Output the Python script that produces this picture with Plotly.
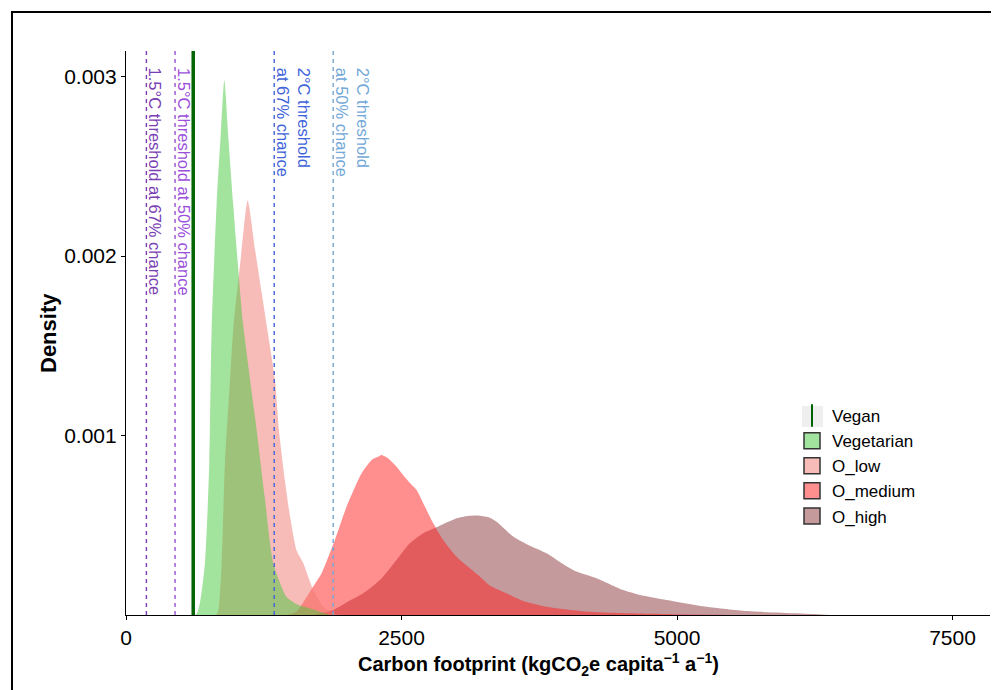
import plotly.graph_objects as go

# ---------------- data ----------------
veg_x = [620, 641, 671, 717, 756, 777, 823, 860, 892, 930, 971, 1016, 1061, 1186, 1260, 1336, 1458, 1550, 1650, 1750, 1850]
veg_y = [0, 0.000005, 0.000067, 0.00029, 0.00085, 0.00159, 0.0023, 0.00268, 0.00298, 0.00265, 0.0023, 0.00195, 0.00163, 0.00103, 0.00065, 0.00029, 0.0001, 0.00006, 0.00004, 0.00002, 0]

low_x = [820, 840, 868, 898, 940, 973, 1040, 1104, 1170, 1230, 1280, 1352, 1388, 1442, 1488, 1548, 1608, 1699, 1790, 1878, 2000]
low_y = [0, 0.00003, 0.00029, 0.00085, 0.00127, 0.00159, 0.00198, 0.00231, 0.00204, 0.0018, 0.0016, 0.00131, 0.00103, 0.00075, 0.00055, 0.00036, 0.00029, 0.00014, 0.000046, 0.00001, 0]

med_x = [1450, 1550, 1639, 1700, 1775, 1840, 1896, 2002, 2138, 2229, 2280, 2319, 2360, 2395, 2450, 2501, 2570, 2637, 2712, 2788, 2878, 3000, 3190, 3300, 3453, 3600, 3816, 4200, 4572, 5000, 5500]
med_y = [0, 0.00002, 0.0001, 0.00016, 0.000233, 0.00033, 0.000418, 0.000604, 0.00079, 0.000864, 0.00088, 0.000892, 0.00088, 0.000864, 0.00083, 0.00079, 0.00074, 0.000697, 0.000604, 0.000511, 0.000418, 0.000325, 0.000225, 0.000165, 0.000121, 0.00008, 0.000046, 0.000018, 0.0000095, 0.000004, 0]

high_x = [1700, 1880, 2000, 2153, 2304, 2455, 2576, 2697, 2818, 3000, 3100, 3190, 3290, 3363, 3513, 3650, 3816, 3950, 4088, 4270, 4511, 4663, 4905, 5268, 5630, 6084, 6400]
high_y = [0, 0.000028, 0.00007, 0.000121, 0.000195, 0.000307, 0.0004, 0.000456, 0.000489, 0.000539, 0.000552, 0.000555, 0.000545, 0.00052, 0.000437, 0.00039, 0.000344, 0.00029, 0.000242, 0.000205, 0.000139, 0.000112, 0.000084, 0.000046, 0.000022, 0.0000095, 0]

vegan_value = 610
threshold_values = [185, 445, 1345, 1880]
threshold_labels = [
    "1.5°C threshold at 67% chance",
    "1.5°C threshold at 50% chance",
    "2°C threshold<br>at 67% chance",
    "2°C threshold<br>at 50% chance",
]
threshold_colors = ["#7A3DB3", "#9B4FDB", "#4063DA", "#72A8D8"]

x_ticks = [0, 2500, 5000, 7500]
y_ticks = [0.001, 0.002, 0.003]
y_ticktext = ["0.001", "0.002", "0.003"]

series = [
    ("O_high", high_x, high_y, "rgba(137,53,57,0.5)", "#C49A9C"),
    ("O_medium", med_x, med_y, "rgba(255,30,30,0.5)", "#FF8E8E"),
    ("O_low", low_x, low_y, "rgba(241,121,113,0.5)", "#F8BCB8"),
    ("Vegetarian", veg_x, veg_y, "rgba(70,200,60,0.5)", "#A2E39D"),
]
legend_rank = {"Vegan": 1, "Vegetarian": 2, "O_low": 3, "O_medium": 4, "O_high": 5}

FONT = "Liberation Sans, Arial, sans-serif"

# page geometry (the page body has an 8px margin)
BODY = 8
W, H = 999 - BODY, 690 - BODY
PL, PR, PT, PB = 126, 990, 51, 615          # plot area on the page
PW, PH = PR - PL, PB - PT


def px(xp):
    return (xp - PL) / PW


def py(yp):
    return (PB - yp) / PH


fig = go.Figure()

for name, xs, ys, fc, _ in series:
    fig.add_trace(go.Scatter(
        x=xs, y=ys, mode="lines", fill="tozeroy", fillcolor=fc,
        line=dict(width=0, shape="spline", smoothing=0.6),
        showlegend=False, hoverinfo="skip", name=name))

# threshold lines
for v, c in zip(threshold_values, threshold_colors):
    fig.add_shape(type="line", xref="x", yref="paper", x0=v, x1=v, y0=0, y1=1,
                  line=dict(color=c, width=1.4, dash="4px,4px"))

# vegan line
fig.add_shape(type="line", xref="x", yref="paper", x0=vegan_value, x1=vegan_value,
              y0=0, y1=1, line=dict(color="#006400", width=3.5))

for v, t, c in zip(threshold_values, threshold_labels, threshold_colors):
    fig.add_annotation(x=v, y=py(66), xref="x", yref="paper", text=t, textangle=90,
                       xanchor="left", yanchor="top", showarrow=False, align="left",
                       xshift=-2, font=dict(family=FONT, size=16.5, color=c))

# legend entries
fig.add_trace(go.Scatter(
    x=[None], y=[None], mode="markers", name="Vegan", legendrank=legend_rank["Vegan"],
    marker=dict(symbol="line-ns", size=16, color="#006400",
                line=dict(color="#006400", width=2))))
for name, _, _, _, solid in series:
    fig.add_trace(go.Scatter(
        x=[None], y=[None], mode="markers", name=name, legendrank=legend_rank[name],
        marker=dict(symbol="square", size=16, color=solid,
                    line=dict(color="#333333", width=1.5))))

# light grey key background for the Vegan entry
fig.add_shape(type="rect", xref="paper", yref="paper",
              x0=px(802), x1=px(823), y0=py(427), y1=py(406),
              line=dict(width=0), fillcolor="#EFEFEF", layer="below")

# outer frame
fig.add_shape(type="rect", xref="paper", yref="paper",
              x0=px(12), x1=px(1010), y0=py(710), y1=py(12),
              line=dict(color="black", width=2), fillcolor="rgba(0,0,0,0)")

# axis titles
fig.add_annotation(
    x=px(538), y=py(664), xref="paper", yref="paper",
    text="<b>Carbon footprint (kgCO<sub>2</sub>e capita<sup>−1</sup> a<sup>−1</sup>)</b>",
    showarrow=False, xanchor="center", yanchor="middle",
    font=dict(family=FONT, size=20, color="black"))
fig.add_annotation(
    x=px(48), y=py(333), xref="paper", yref="paper", text="<b>Density</b>",
    textangle=-90, showarrow=False, xanchor="center", yanchor="middle",
    font=dict(family=FONT, size=22, color="black"))

fig.update_layout(
    width=W, height=H,
    margin=dict(l=PL - BODY, r=999 - PR, t=PT - BODY, b=690 - PB),
    paper_bgcolor="white", plot_bgcolor="white",
    font=dict(family=FONT, color="black"),
    showlegend=True,
    legend=dict(x=px(792), y=py(398), xanchor="left", yanchor="top",
                font=dict(family=FONT, size=17, color="black"),
                bgcolor="rgba(0,0,0,0)", itemwidth=30, tracegroupgap=0),
    xaxis=dict(range=[0, 7840], showline=True, linecolor="black", linewidth=1.2,
               ticks="outside", ticklen=4, tickcolor="black", tickwidth=1.2,
               tickvals=x_ticks, tickfont=dict(size=21, family=FONT, color="black"),
               showgrid=False, zeroline=False),
    yaxis=dict(range=[0, 0.003143], showline=True, linecolor="black", linewidth=1.2,
               ticks="outside", ticklen=4, tickcolor="black", tickwidth=1.2,
               tickvals=y_ticks, ticktext=y_ticktext,
               tickfont=dict(size=21, family=FONT, color="black"),
               showgrid=False, zeroline=False),
)

fig.write_html("out.html")
